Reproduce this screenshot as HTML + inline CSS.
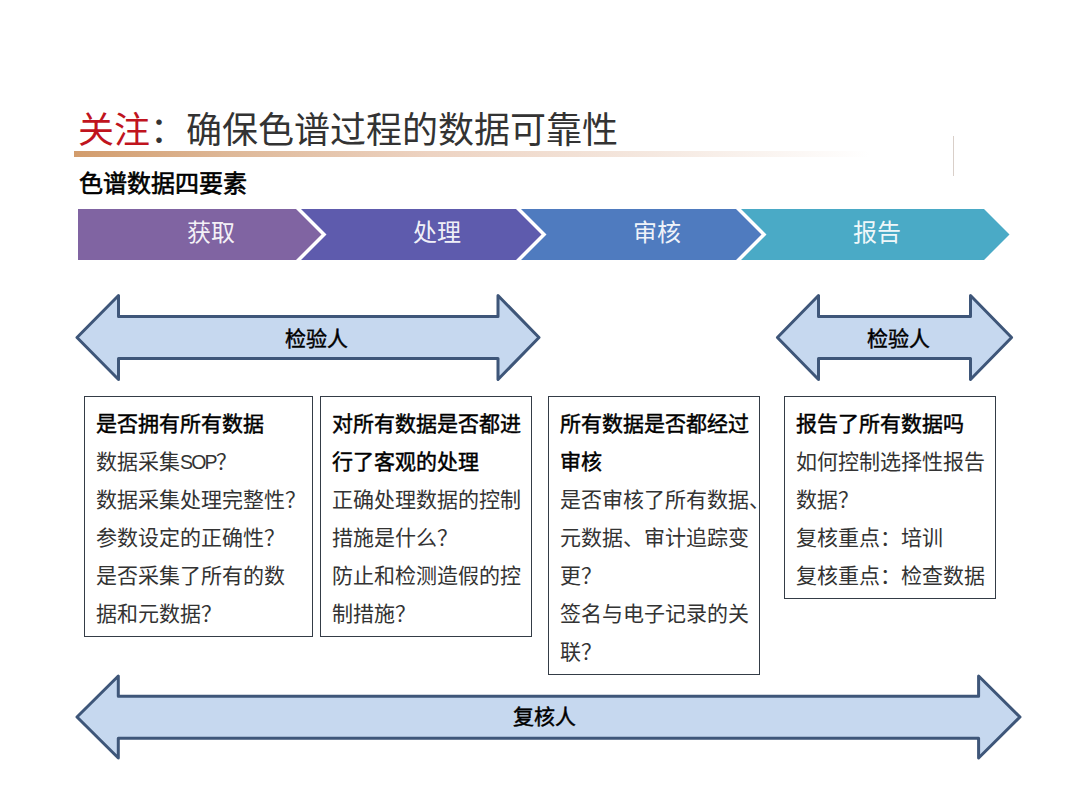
<!DOCTYPE html>
<html lang="zh-CN">
<head>
<meta charset="utf-8">
<style>
html,body{margin:0;padding:0;background:#fff;}
body{width:1080px;height:810px;position:relative;overflow:hidden;font-family:"Liberation Sans",sans-serif;color:#000;}
.abs{position:absolute;white-space:nowrap;}
#title{left:78px;top:109px;color:#333;font-size:36px;line-height:44px;font-family:"Liberation Serif",serif;letter-spacing:0;}
#title .red{color:#c0141e;}
#bar{left:74px;top:151px;width:800px;height:6px;background:linear-gradient(to right,#d29c6c 0px,#deb898 156px,#edd3c2 356px,#f4e6dd 556px,#fff 796px);}
#vline{left:952.5px;top:136px;width:1.5px;height:40px;background:#d9cfc9;}
#sub{left:79px;top:168.5px;font-size:24px;line-height:30px;font-weight:normal;-webkit-text-stroke:0.6px #000;}
.chev{font-size:24px;color:rgba(255,255,255,0.93);line-height:30px;font-weight:300;}
.arr{font-size:21px;line-height:26px;margin-top:1px;font-weight:normal;-webkit-text-stroke:0.45px #000;}
.box{position:absolute;border:1.3px solid #343c46;box-sizing:border-box;background:#fff;}
.box .t{position:absolute;left:11px;top:7.5px;font-size:21px;line-height:38px;white-space:nowrap;font-weight:normal;color:#333;}
.box .t b{font-weight:normal;color:#000;-webkit-text-stroke:0.45px #000;}
svg{position:absolute;left:0;top:0;}
</style>
</head>
<body>
<svg width="1080" height="810" viewBox="0 0 1080 810">
  <!-- chevrons -->
  <polygon points="78,209 296,209 321.5,234.5 296,260 78,260" fill="#8064a2"/>
  <polygon points="301,209 516,209 541.5,234.5 516,260 301,260 326.5,234.5" fill="#5e5bad"/>
  <polygon points="521,209 736,209 761.5,234.5 736,260 521,260 546.5,234.5" fill="#4f7bbf"/>
  <polygon points="741,209 984,209 1009.5,234.5 984,260 741,260 766.5,234.5" fill="#4aaac6"/>
  <!-- arrows -->
  <g fill="#c6d8ef" stroke="#3e5679" stroke-width="3" stroke-linejoin="round">
    <polygon points="77,337.5 118.5,295.5 118.5,316.5 498,316.5 498,295.5 539,337.5 498,379.5 498,358.5 118.5,358.5 118.5,379.5"/>
    <polygon points="777.4,337.5 818.5,295.5 818.5,316.5 970.5,316.5 970.5,295.5 1011.6,337.5 970.5,379.5 970.5,358.5 818.5,358.5 818.5,379.5"/>
    <polygon points="77,717 118.3,676 118.3,696.3 978.6,696.3 978.6,676 1020,717 978.6,758 978.6,738.3 118.3,738.3 118.3,758"/>
  </g>
</svg>

<div id="title" class="abs"><span class="red">关注</span>：确保色谱过程的数据可靠性</div>
<div id="bar" class="abs"></div>
<div id="vline" class="abs"></div>
<div id="sub" class="abs">色谱数据四要素</div>

<div class="abs chev" style="left:187px;top:218px;">获取</div>
<div class="abs chev" style="left:413px;top:218px;">处理</div>
<div class="abs chev" style="left:633px;top:218px;">审核</div>
<div class="abs chev" style="left:853px;top:218px;">报告</div>

<div class="abs arr" style="left:285px;top:325px;">检验人</div>
<div class="abs arr" style="left:867px;top:325px;">检验人</div>
<div class="abs arr" style="left:513px;top:703px;">复核人</div>

<div class="box" style="left:84px;top:396px;width:229px;height:241px;">
  <div class="t"><b>是否拥有所有数据</b><br>数据采集<span style="font-family:'Liberation Sans',sans-serif;font-size:19.5px;letter-spacing:-1.8px;">SOP</span>？<br>数据采集处理完整性？<br>参数设定的正确性？<br>是否采集了所有的数<br>据和元数据？</div>
</div>
<div class="box" style="left:320px;top:396px;width:212px;height:241px;">
  <div class="t"><b>对所有数据是否都进<br>行了客观的处理</b><br>正确处理数据的控制<br>措施是什么？<br>防止和检测造假的控<br>制措施？</div>
</div>
<div class="box" style="left:548px;top:396px;width:212px;height:279px;">
  <div class="t"><b>所有数据是否都经过<br>审核</b><br>是否审核了所有数据、<br>元数据、审计追踪变<br>更？<br>签名与电子记录的关<br>联？</div>
</div>
<div class="box" style="left:784px;top:396px;width:212px;height:203px;">
  <div class="t"><b>报告了所有数据吗</b><br>如何控制选择性报告<br>数据？<br>复核重点：培训<br>复核重点：检查数据</div>
</div>
</body>
</html>
